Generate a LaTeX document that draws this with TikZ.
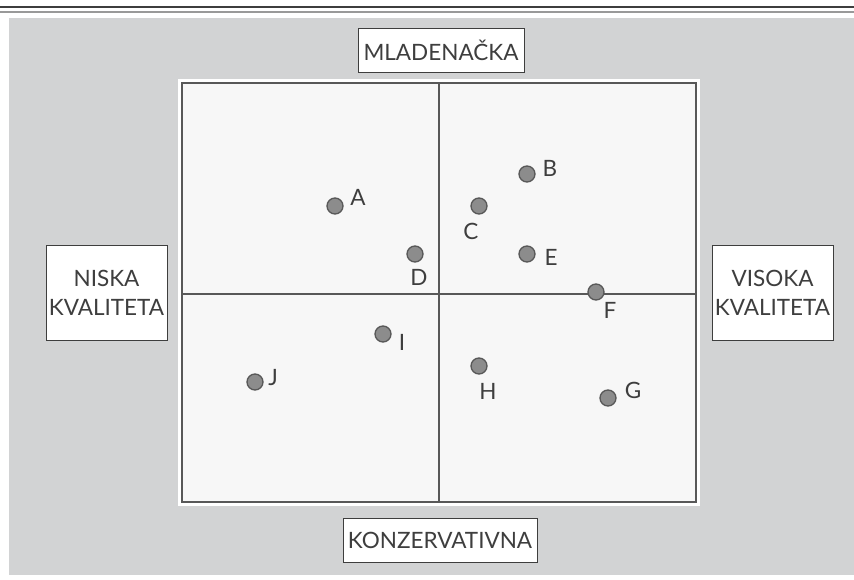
\documentclass[tikz,border=0pt]{standalone}
\usepackage{fontspec}
\setmainfont{Lato}
\usetikzlibrary{positioning}
\definecolor{bggray}{RGB}{210,211,212}
\definecolor{framegray}{RGB}{88,88,88}
\definecolor{dotgray}{RGB}{140,140,140}
\definecolor{txtgray}{RGB}{62,62,62}
\definecolor{plotfill}{RGB}{247,247,247}

\begin{document}
\begin{tikzpicture}[x=1pt, y=-1pt,
    every node/.style={font=\fontsize{22.5}{29}\selectfont, text=txtgray},
    axisbox/.style={draw=txtgray, fill=white, line width=0.8pt, align=center, inner sep=0pt},
    dot/.style={circle, draw=framegray, fill=dotgray, line width=1.3pt, minimum size=16pt, inner sep=0pt},
    brand/.style={inner sep=0pt}]
    \useasboundingbox (0,0) rectangle (854,580);

    % page rules and grey panel
    \draw[txtgray, line width=1.3pt] (0,7) -- (854,7);
    \draw[gray!80, line width=2pt] (0,11.8) -- (854,11.8);
    \fill[bggray] (9,18) rectangle (854,575);

    % plot area
    \fill[white] (178,79) rectangle (700,506);
    \draw[framegray, fill=plotfill, line width=2pt] (182,83) rectangle (696,502);
    \coordinate (top) at (439,83);
    \coordinate (bottom) at (439,502);
    \coordinate (left) at (182,294);
    \coordinate (right) at (696,294);
    \draw[framegray, line width=1.5pt] (top) -- (bottom);
    \draw[framegray, line width=1.5pt] (left) -- (right);

    % axis labels
    \node[axisbox, minimum width=166pt, minimum height=44pt] (young) at (441,50) {MLADENAČKA};
    \node[axisbox, minimum width=194pt, minimum height=44pt] (conservative) at (440,540) {KONZERVATIVNA};
    \node[axisbox, minimum width=121pt, minimum height=95pt] (low) at (106.5,292.5) {NISKA\\KVALITETA};
    \node[axisbox, minimum width=121pt, minimum height=95pt] (high) at (772.5,292.5) {VISOKA\\KVALITETA};

    % brands
    \node[dot] (A) at (335,206) {};
    \node[dot] (B) at (527,174) {};
    \node[dot] (C) at (479,206) {};
    \node[dot] (D) at (415,254) {};
    \node[dot] (E) at (527,254) {};
    \node[dot] (F) at (596,292) {};
    \node[dot] (G) at (608,398) {};
    \node[dot] (H) at (479,366) {};
    \node[dot] (I) at (383,334) {};
    \node[dot] (J) at (255,382) {};

    \node[brand] (lA) at (358,197) {A};
    \node[brand] (lB) at (550,168) {B};
    \node[brand] (lC) at (471,231) {C};
    \node[brand] (lD) at (419,277) {D};
    \node[brand] (lE) at (551,257) {E};
    \node[brand] (lF) at (610,310) {F};
    \node[brand] (lG) at (633,390) {G};
    \node[brand] (lH) at (488,391) {H};
    \node[brand] (lI) at (402,342) {I};
    \node[brand] (lJ) at (273,378) {J};
\end{tikzpicture}
\end{document}
